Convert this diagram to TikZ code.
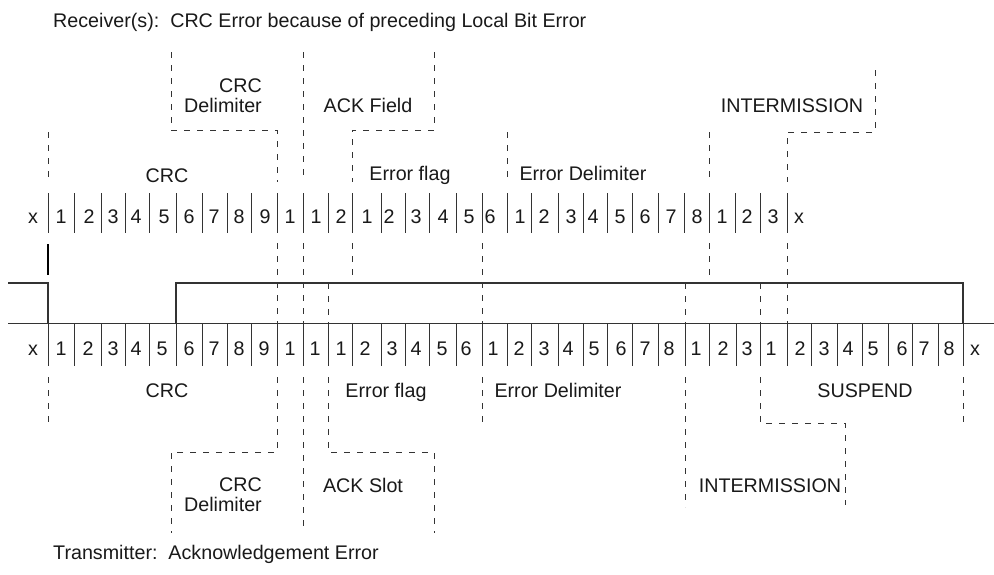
\documentclass[tikz,border=0pt]{standalone}
\usepackage{fontspec}
\setmainfont{Liberation Sans}

\begin{document}
\begin{tikzpicture}[
		x=1pt, y=-1pt,
		font=\fontsize{19.7}{20}\selectfont,
		bit/.style={
			anchor=base, inner sep=0pt, text=black!90
		},
		field/.style={
			anchor=base, inner sep=0pt, text=black!90
		},
		twoline/.style={
			anchor=east, inner sep=0pt, align=right, text=black!90
		},
		bitsep/.style={draw=black!80, line width=1pt},
		wave/.style={draw=black!80, line width=1.2pt},
		bound/.style={draw=black!80, line width=0.8pt, dash pattern=on 6pt off 7pt},
		]
		\useasboundingbox (0,0) rectangle (994,574);
		
		% Titles
		\node [field, anchor=base west] (rxtitle) at (53,27) {Receiver(s):\ \ CRC Error because of preceding Local Bit Error};
		\node [field, anchor=base west] (txtitle) at (53,559) {Transmitter:\ \ Acknowledgement Error};
		
		% Receiver bits
		\foreach \x in {48,74,101,125,149,176,202,227,251,277,303,328,352,381,405,429,456,482,507,531,558,583,607,632,658,684,709,735,760,787}
			\draw [bitsep] (\x,193) -- (\x,233);
		\foreach \x/\t in {33/x,61/1,89/2,113/3,136/4,164/5,189/6,214/7,239/8,265/9,290/1,316/1,341/2,367/1,389/2,416/3,443/4,469/5,490/6,520/1,544/2,571/3,593/4,620/5,645/6,671/7,697/8,722/1,747/2,773/3,799/x}
			\node [bit] (rx\x) at (\x,223) {\t};
		
		% Transmitter bus level and bits
		\draw [wave] (8,283) -- (48,283) -- (48,323);
		\draw [wave] (176,323) -- (176,283) -- (963,283) -- (963,323);
		\draw [bitsep] (8,323) -- (994,323);
		\foreach \x in {48,74,101,125,149,176,202,227,251,277,303,328,352,381,405,429,456,482,507,531,558,583,607,632,658,685,709,736,760,787,811,837,862,888,912,938,963}
			\draw [bitsep] (\x,323) -- (\x,366);
		\foreach \x/\t in {33/x,61/1,88/2,113/3,136/4,162/5,189/6,214/7,239/8,264/9,290/1,315/1,341/1,365/2,392/3,416/4,442/5,466/6,493/1,519/2,544/3,568/4,594/5,621/6,645/7,669/8,696/1,723/2,747/3,771/1,800/2,824/3,848/4,873/5,902/6,924/7,949/8,975/x}
			\node [bit] (tx\x) at (\x,355) {\t};
		
		% local bit error
		\draw [line width=2pt] (48,244) -- (48,275);
		
		% Receiver fields
		\draw [bound] (48,132) -- (48,182);
		\draw [bound] (171,52) -- (171,130) -- (277,130) -- (277,182);
		\draw [bound] (277,243) -- (277,323);
		\draw [bound] (303,52) -- (303,182);
		\draw [bound] (303,243) -- (303,323);
		\draw [bound] (434,52) -- (434,130) -- (352,130) -- (352,182);
		\draw [bound] (352,243) -- (352,275);
		\draw [bound] (507,132) -- (507,182);
		\draw [bound] (482,243) -- (482,323);
		\draw [bound] (709,132) -- (709,182);
		\draw [bound] (709,243) -- (709,275);
		\draw [bound] (875,70) -- (875,132) -- (787,132) -- (787,182);
		\draw [bound] (787,243) -- (787,323);
		\draw [bound] (328,283) -- (328,323);
		\draw [bound] (685,283) -- (685,323);
		\draw [bound] (760,283) -- (760,323);
		
		\node [field] (rxcrc) at (167,182) {CRC};
		\node [twoline] (rxcrcdel) at (262,96) {CRC\\Delimiter};
		\node [field] (rxack) at (368,112) {ACK Field};
		\node [field] (rxflag) at (410,180) {Error flag};
		\node [field] (rxerrdel) at (583,180) {Error Delimiter};
		\node [field] (rxinter) at (792,112) {INTERMISSION};
		
		% Transmitter fields
		\draw [bound] (48,377) -- (48,427);
		\draw [bound] (277,377) -- (277,452) -- (171,452) -- (171,533);
		\draw [bound] (303,377) -- (303,528);
		\draw [bound] (328,377) -- (328,452) -- (434,452) -- (434,533);
		\draw [bound] (482,377) -- (482,427);
		\draw [bound] (685,377) -- (685,507);
		\draw [bound] (760,377) -- (760,423) -- (845,423) -- (845,505);
		\draw [bound] (963,377) -- (963,422);
		
		\node [field] (txcrc) at (167,397) {CRC};
		\node [twoline] (txcrcdel) at (262,495) {CRC\\Delimiter};
		\node [field] (txack) at (363,492) {ACK Slot};
		\node [field] (txflag) at (386,397) {Error flag};
		\node [field] (txerrdel) at (558,397) {Error Delimiter};
		\node [field] (txsusp) at (865,397) {SUSPEND};
		\node [field] (txinter) at (770,492) {INTERMISSION};
		
	\end{tikzpicture}
\end{document}
